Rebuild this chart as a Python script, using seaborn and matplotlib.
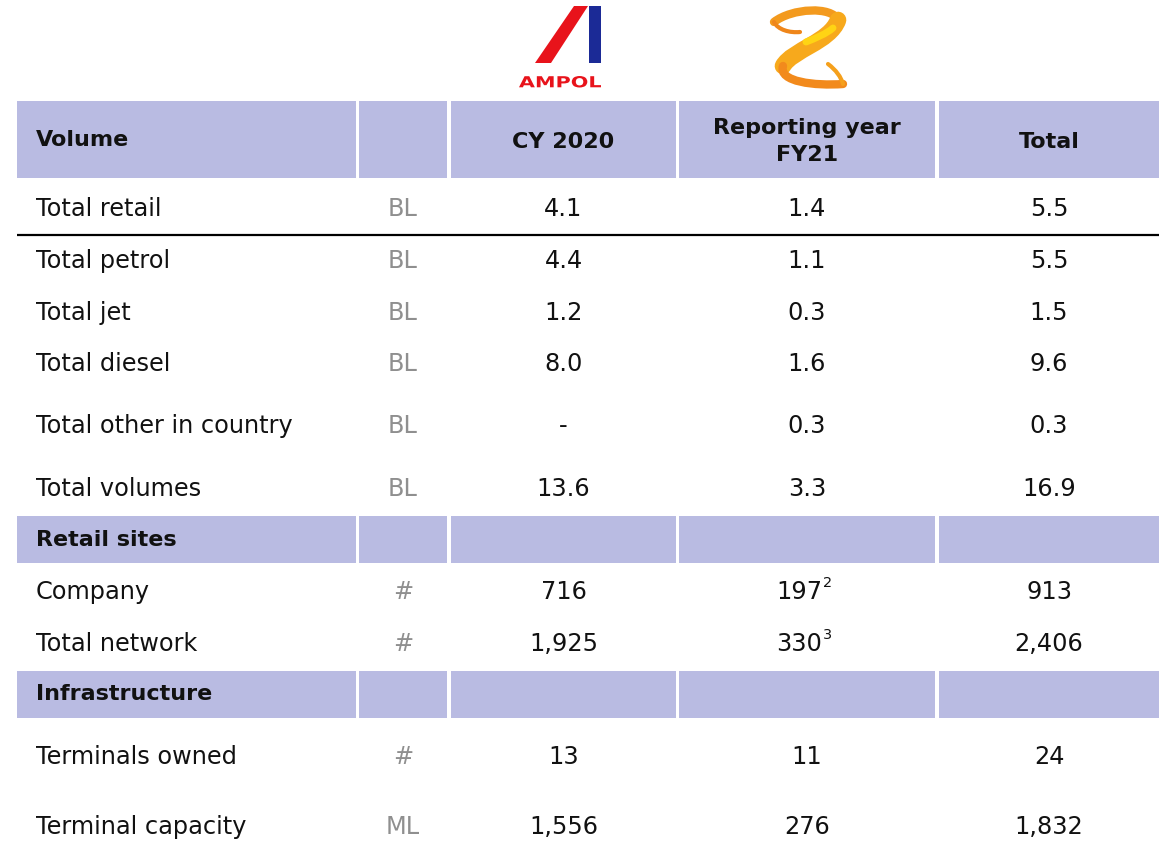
import matplotlib
matplotlib.use("Agg")
import matplotlib.pyplot as plt
import seaborn as sns
import numpy as np
from matplotlib.patches import Polygon, Rectangle, PathPatch
from matplotlib.path import Path
from matplotlib.textpath import TextPath
from matplotlib.font_manager import FontProperties
from matplotlib.transforms import Affine2D

# ---------------- data ----------------
header_cols = ["Volume", "", "CY 2020", "Reporting year\nFY21", "Total"]
row_labels = ["Total retail", "Total petrol", "Total jet", "Total diesel",
              "Total other in country", "Total volumes",
              "Company", "Total network",
              "Terminals owned", "Terminal capacity"]
row_units = ["BL", "BL", "BL", "BL", "BL", "BL", "#", "#", "#", "ML"]
cy2020 = ["4.1", "4.4", "1.2", "8.0", "-", "13.6", "716", "1,925", "13", "1,556"]
fy21 = ["1.4", "1.1", "0.3", "1.6", "0.3", "3.3", "197", "330", "11", "276"]
fy21_notes = ["", "", "", "", "", "", "2", "3", "", ""]
totals = ["5.5", "5.5", "1.5", "9.6", "0.3", "16.9", "913", "2,406", "24", "1,832"]
section_titles = ["Retail sites", "Infrastructure"]

# ---------------- layout ----------------
W, H = 1166, 842
col_edges = [(17, 356), (359, 447), (451, 676), (679, 935), (939, 1159)]
col_centers = [(a + b) / 2 for a, b in col_edges]
row_y = [209, 261, 313, 364, 426, 489, 592, 644, 757, 827]
header_band = (101, 178)
section_bands = [(516, 563), (671, 718)]
band_color = "#b9bbe2"
unit_color = "#8f8f8f"
FS = 17.3
FSB = 16

sns.set_theme(style="white")
plt.rcParams["font.family"] = ["DejaVu Sans"]

fig = plt.figure(figsize=(W / 100, H / 100), dpi=100)
ax = fig.add_axes([0, 0, 1, 1])
ax.set_xlim(0, W)
ax.set_ylim(H, 0)
ax.axis("off")

def band(y0, y1):
    for a, b in col_edges:
        ax.add_patch(Rectangle((a, y0), b - a, y1 - y0, color=band_color, lw=0))

# header
band(*header_band)
hy = sum(header_band) / 2
ax.text(36, hy + 1, header_cols[0], ha="left", va="center", fontsize=FSB, fontweight="bold", color="#111111")
for i in (2, 3, 4):
    ax.text(col_centers[i], hy + 2, header_cols[i], ha="center", va="center", fontsize=FSB,
            fontweight="bold", color="#111111", linespacing=1.4)

# sections
for (y0, y1), t in zip(section_bands, section_titles):
    band(y0, y1)
    ax.text(36, (y0 + y1) / 2, t, ha="left", va="center", fontsize=FSB, fontweight="bold", color="#111111")

# rows
for y, lab, u, a, b, n, t in zip(row_y, row_labels, row_units, cy2020, fy21, fy21_notes, totals):
    ax.text(36, y, lab, ha="left", va="center", fontsize=FS, color="#111111")
    ax.text(col_centers[1], y, u, ha="center", va="center", fontsize=FS, color=unit_color)
    ax.text(col_centers[2], y, a, ha="center", va="center", fontsize=FS, color="#111111")
    if n:
        ax.text(col_centers[3] + 15, y, b, ha="right", va="center", fontsize=FS, color="#111111")
        ax.text(col_centers[3] + 16, y - 9, n, ha="left", va="center", fontsize=FS * 0.6, color="#111111")
    else:
        ax.text(col_centers[3], y, b, ha="center", va="center", fontsize=FS, color="#111111")
    ax.text(col_centers[4], y, t, ha="center", va="center", fontsize=FS, color="#111111")

# black rule under Total retail
ax.plot([17, 1159], [235, 235], color="black", lw=1.6, solid_capstyle="butt")

# ---------------- logos ----------------
# Ampol
ax.add_patch(Polygon([(574, 6), (588, 6), (551, 63), (535, 63)], closed=True, color="#e8131b", lw=0))
ax.add_patch(Rectangle((589, 6), 12, 57, color="#1b2a96", lw=0))
tp = TextPath((0, 0), "AMPOL", size=10, prop=FontProperties(family="DejaVu Sans", weight="heavy"))
bb = tp.get_extents()
sx = 82 / bb.width
sy = 11.5 / bb.height
tr = Affine2D().translate(-bb.x0, -bb.y0).scale(sx, -sy).translate(519, 87.5)
ax.add_patch(PathPatch(tr.transform_path(tp), color="#e8131b", lw=0))

# Z swirl (approximation)
def ribbon(pts, lw, color):
    codes = [Path.MOVETO] + [Path.CURVE4] * (len(pts) - 1)
    ax.add_patch(PathPatch(Path(pts, codes), fill=False, lw=lw, edgecolor=color, capstyle="round"))

ribbon([(774, 22), (792, 8), (832, 6), (838, 20)], 6, "#f39a1e")
ribbon([(774, 22), (778, 30), (790, 33), (800, 32)], 3, "#ef861a")
ribbon([(838, 20), (830, 42), (792, 50), (783, 66)], 12, "#f7a91c")
ribbon([(806, 42), (816, 38), (826, 34), (833, 28)], 5, "#ffd414")
ribbon([(783, 66), (778, 82), (815, 86), (843, 84)], 6, "#f28a1c")
ribbon([(828, 64), (836, 70), (841, 77), (843, 84)], 3, "#f5a01c")

fig.savefig("out.png", dpi=100)
